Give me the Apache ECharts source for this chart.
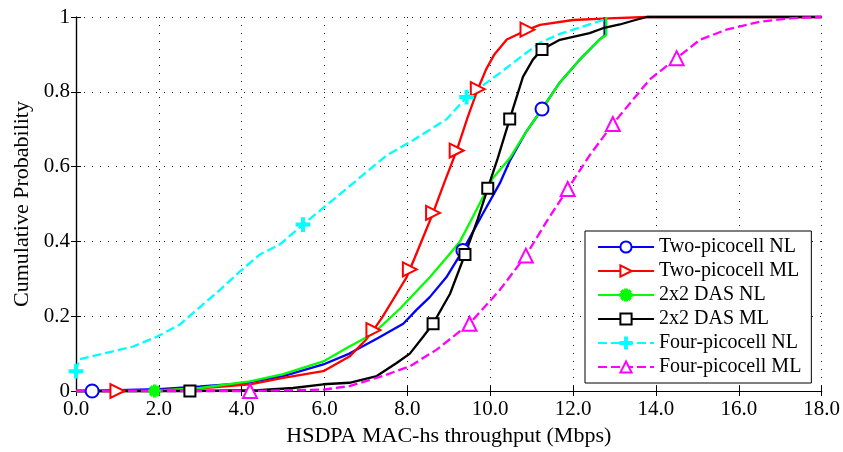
<!DOCTYPE html>
<html>
<head>
<meta charset="utf-8">
<script src="https://cdn.jsdelivr.net/npm/echarts@6/dist/echarts.min.js"></script>
<style>
html,body{margin:0;padding:0;background:#fff;}
#chart{width:843px;height:452px;}
</style>
</head>
<body>
<div id="chart"></div>
<script>
// ---- data ----
var seriesNames = ['Two-picocell NL','Two-picocell ML','2x2 DAS NL','2x2 DAS ML','Four-picocell NL','Four-picocell ML'];
var xTickLabels = ['0.0','2.0','4.0','6.0','8.0','10.0','12.0','14.0','16.0','18.0'];
var yTickLabels = ['0','0.2','0.4','0.6','0.8','1'];

var twoNL_x = [0,0.39,1.0,2.0,3.0,4.0,5.0,5.97,6.6,7.26,7.9,8.22,8.54,8.94,9.34,9.8,10.23,10.47,10.85,11.25,11.68,12.16,12.64,12.76,12.76];
var twoNL_y = [0,0,0.002,0.005,0.012,0.02,0.04,0.071,0.1,0.14,0.18,0.217,0.251,0.304,0.376,0.47,0.555,0.615,0.69,0.754,0.825,0.886,0.94,0.95,1.0];
var twoNL_marks = [1,14,19];

var twoML_x = [0,1.0,2.0,3.0,4.2,5.0,5.97,6.6,7.0,7.18,7.4,7.74,7.98,8.06,8.18,8.62,8.9,9.19,9.45,9.7,9.9,10.1,10.4,10.9,11.2,12.0,13.0,13.8,18];
var twoML_y = [0,0,0.002,0.007,0.018,0.035,0.053,0.092,0.137,0.163,0.198,0.26,0.304,0.325,0.357,0.476,0.56,0.643,0.73,0.807,0.86,0.9,0.94,0.966,0.979,0.992,0.997,1,1];
var twoML_marks = [1,9,13,15,17,19,23];

var dasNL_x = [0,1.9,3.0,4.2,5.0,5.97,6.6,7.18,7.82,8.54,8.95,9.27,9.6,10.06,10.47,10.85,11.25,11.68,12.16,12.64,12.8,12.8];
var dasNL_y = [0,0,0.008,0.026,0.045,0.079,0.119,0.154,0.22,0.304,0.357,0.40,0.47,0.569,0.622,0.69,0.754,0.825,0.886,0.94,0.952,1.0];
var dasNL_marks = [1];

var dasML_x = [0,2.75,4.4,5.24,5.97,6.6,7.26,7.74,8.06,8.38,8.62,9.03,9.39,9.7,9.94,10.18,10.47,10.79,11.03,11.25,11.68,12.4,12.72,13.13,13.44,13.78,18];
var dasML_y = [0,0,0.002,0.008,0.018,0.022,0.04,0.075,0.1,0.145,0.18,0.26,0.365,0.46,0.542,0.622,0.727,0.84,0.886,0.913,0.939,0.957,0.97,0.98,0.99,1,1];
var dasML_marks = [1,10,12,14,16,19];

var fourNL_x = [0,0.08,0.58,1.38,1.95,2.5,3.0,3.47,3.96,4.44,4.92,5.48,6.54,7.5,8.13,8.95,9.43,10.23,10.7,11.2,11.68,12.0,12.72,12.76];
var fourNL_y = [0.053,0.085,0.098,0.119,0.145,0.177,0.225,0.27,0.32,0.365,0.392,0.445,0.542,0.63,0.67,0.727,0.786,0.85,0.89,0.931,0.955,0.966,0.992,1.0];
var fourNL_marks = [0,11,16];

var fourML_x = [0,4.2,6.0,6.6,7.4,8.06,8.7,9.1,9.5,10.23,10.86,11.37,11.87,12.4,12.96,13.85,14.5,15.06,15.7,16.5,17.3,18];
var fourML_y = [0,0,0.004,0.013,0.04,0.066,0.11,0.145,0.18,0.27,0.362,0.455,0.54,0.63,0.714,0.833,0.89,0.939,0.966,0.987,0.997,1];
var fourML_marks = [1,8,10,12,14,16];

// ---- build ----
var FONT = '"Liberation Serif","Times New Roman",serif';
var plusPath = 'path://M-1,-6 L1,-6 L1,-1 L6,-1 L6,1 L1,1 L1,6 L-1,6 L-1,1 L-6,1 L-6,-1 L-1,-1 Z';
var starPath = 'path://M-1,-6 L1,-6 L1,-1 L6,-1 L6,1 L1,1 L1,6 L-1,6 L-1,1 L-6,1 L-6,-1 L-1,-1 Z ' +
  'M-4.9,-3.5 L-3.5,-4.9 L4.9,3.5 L3.5,4.9 Z M3.5,-4.9 L4.9,-3.5 L-3.5,4.9 L-4.9,3.5 Z';

function build(xs, ys, marks) {
  return xs.map(function (x, i) {
    var item = { value: [x, ys[i]] };
    if (marks.indexOf(i) < 0) item.symbol = 'none';
    return item;
  });
}

function mk(name, xs, ys, marks, color, symbol, size, rotate, dashed) {
  return {
    name: name,
    type: 'line',
    data: build(xs, ys, marks),
    symbol: symbol,
    symbolSize: size,
    symbolRotate: rotate,
    showSymbol: true,
    showAllSymbol: true,
    color: color,
    lineStyle: { color: color, width: 2.3, type: dashed ? [9, 4] : 'solid' },
    itemStyle: { color: color, borderColor: color, borderWidth: 1.8 },
    emphasis: { disabled: true },
    clip: false,
    z: 3
  };
}

var chart = echarts.init(document.getElementById('chart'), null, { renderer: 'canvas' });
var axisCommon = {
  axisLine: { show: true, lineStyle: { color: '#000', width: 1.2 } },
  axisTick: { show: true, inside: true, length: 5, lineStyle: { color: '#000' } }
};
chart.setOption({
  animation: false,
  backgroundColor: '#fff',
  grid: { left: 76, right: 21, top: 17, bottom: 57, containLabel: false },
  xAxis: [
    Object.assign({
      type: 'value', min: 0, max: 18, interval: 2, position: 'bottom',
      name: 'HSDPA MAC-hs throughput (Mbps)', nameLocation: 'middle', nameGap: 34,
      nameTextStyle: { fontFamily: FONT, fontSize: 22, color: '#000' },
      axisLabel: { fontFamily: FONT, fontSize: 21, color: '#000', margin: 8,
        formatter: function (v) { return xTickLabels[Math.round(v / 2)]; } },
      splitLine: { show: true, lineStyle: { color: '#222', width: 1, type: [1, 7] } }
    }, axisCommon),
    Object.assign({
      type: 'value', min: 0, max: 18, interval: 2, position: 'top',
      axisLabel: { show: false }, splitLine: { show: false }
    }, axisCommon)
  ],
  yAxis: [
    Object.assign({
      type: 'value', min: 0, max: 1, interval: 0.2, position: 'left',
      name: 'Cumulative Probability', nameLocation: 'middle', nameGap: 42,
      nameTextStyle: { fontFamily: FONT, fontSize: 22, color: '#000' },
      axisLabel: { fontFamily: FONT, fontSize: 21, color: '#000', margin: 6,
        formatter: function (v) { return yTickLabels[Math.round(v * 5)]; } },
      splitLine: { show: true, lineStyle: { color: '#222', width: 1, type: [1, 7] } }
    }, axisCommon),
    Object.assign({
      type: 'value', min: 0, max: 1, interval: 0.2, position: 'right',
      axisLabel: { show: false }, splitLine: { show: false }
    }, axisCommon)
  ],
  legend: {
    orient: 'vertical',
    left: 585, top: 231,
    width: 227,
    padding: [6, 10, 6, 12],
    itemWidth: 56, itemHeight: 14, itemGap: 4,
    backgroundColor: '#fff',
    borderColor: '#000', borderWidth: 1,
    selectedMode: false,
    textStyle: { fontFamily: FONT, fontSize: 20, color: '#000', lineHeight: 20, padding: [0, 0, 0, 0] },
    data: seriesNames,
    z: 10
  },
  series: [
    mk(seriesNames[0], twoNL_x, twoNL_y, twoNL_marks, '#0000ff', 'emptyCircle', 13, 0, false),
    mk(seriesNames[1], twoML_x, twoML_y, twoML_marks, '#ff0000', 'emptyTriangle', 14, -90, false),
    mk(seriesNames[2], dasNL_x, dasNL_y, dasNL_marks, '#00ff00', starPath, 11, 0, false),
    mk(seriesNames[3], dasML_x, dasML_y, dasML_marks, '#000000', 'emptyRect', 11, 0, false),
    mk(seriesNames[4], fourNL_x, fourNL_y, fourNL_marks, '#00ffff', plusPath, 13, 0, true),
    mk(seriesNames[5], fourML_x, fourML_y, fourML_marks, '#ff00ff', 'emptyTriangle', 14, 0, true)
  ]
});
</script>
</body>
</html>
